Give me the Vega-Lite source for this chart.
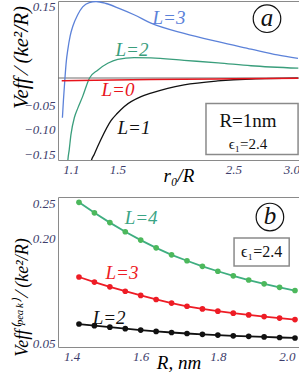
{
  "$schema": "https://vega.github.io/schema/vega-lite/v6.json",
  "padding": {"left": 9, "top": 0, "right": 0, "bottom": 0},
  "background": "white",
  "spacing": 10,
  "config": {
    "view": {"stroke": "#8a8a8a", "strokeWidth": 1},
    "axis": {"grid": false, "domain": false, "ticks": false, "labelFont": "Liberation Serif", "labelFontStyle": "italic", "labelFontSize": 13, "labelColor": "#3d3d6b", "titleFont": "Liberation Serif", "titleFontStyle": "italic", "titleFontWeight": "normal", "titleColor": "#000000"}
  },
  "datasets": {
    "zeroA": [{"x": 0.988, "v": 0}, {"x": 3.066, "v": 0}],
    "curvesA": [
      {"L": "L=3", "x": 1.026, "v": -0.081}, {"L": "L=3", "x": 1.035, "v": -0.045}, {"L": "L=3", "x": 1.048, "v": 0.0}, {"L": "L=3", "x": 1.06, "v": 0.035}, {"L": "L=3", "x": 1.072, "v": 0.057}, {"L": "L=3", "x": 1.093, "v": 0.086}, {"L": "L=3", "x": 1.115, "v": 0.105}, {"L": "L=3", "x": 1.158, "v": 0.129}, {"L": "L=3", "x": 1.201, "v": 0.145}, {"L": "L=3", "x": 1.258, "v": 0.154}, {"L": "L=3", "x": 1.316, "v": 0.156}, {"L": "L=3", "x": 1.402, "v": 0.152}, {"L": "L=3", "x": 1.514, "v": 0.142}, {"L": "L=3", "x": 1.644, "v": 0.129}, {"L": "L=3", "x": 1.79, "v": 0.112}, {"L": "L=3", "x": 2.075, "v": 0.091}, {"L": "L=3", "x": 2.368, "v": 0.074}, {"L": "L=3", "x": 2.652, "v": 0.059}, {"L": "L=3", "x": 2.88, "v": 0.047}, {"L": "L=3", "x": 3.057, "v": 0.04},
      {"L": "L=2", "x": 1.066, "v": -0.2}, {"L": "L=2", "x": 1.0715, "v": -0.173}, {"L": "L=2", "x": 1.085, "v": -0.146}, {"L": "L=2", "x": 1.1, "v": -0.115}, {"L": "L=2", "x": 1.13, "v": -0.08}, {"L": "L=2", "x": 1.158, "v": -0.062}, {"L": "L=2", "x": 1.2, "v": -0.038}, {"L": "L=2", "x": 1.26, "v": 0.0}, {"L": "L=2", "x": 1.33, "v": 0.016}, {"L": "L=2", "x": 1.417, "v": 0.03}, {"L": "L=2", "x": 1.503, "v": 0.038}, {"L": "L=2", "x": 1.644, "v": 0.0415}, {"L": "L=2", "x": 1.79, "v": 0.041}, {"L": "L=2", "x": 2.075, "v": 0.036}, {"L": "L=2", "x": 2.368, "v": 0.031}, {"L": "L=2", "x": 2.652, "v": 0.025}, {"L": "L=2", "x": 3.06, "v": 0.02},
      {"L": "L=1", "x": 1.265, "v": -0.185}, {"L": "L=1", "x": 1.272, "v": -0.172}, {"L": "L=1", "x": 1.3, "v": -0.156}, {"L": "L=1", "x": 1.359, "v": -0.125}, {"L": "L=1", "x": 1.445, "v": -0.087}, {"L": "L=1", "x": 1.5, "v": -0.072}, {"L": "L=1", "x": 1.56, "v": -0.058}, {"L": "L=1", "x": 1.704, "v": -0.038}, {"L": "L=1", "x": 1.79, "v": -0.031}, {"L": "L=1", "x": 1.934, "v": -0.021}, {"L": "L=1", "x": 2.075, "v": -0.014}, {"L": "L=1", "x": 2.365, "v": -0.006}, {"L": "L=1", "x": 2.652, "v": -0.002}, {"L": "L=1", "x": 3.057, "v": -0.0003},
      {"L": "L=0", "x": 1.02, "v": -0.0058}, {"L": "L=0", "x": 1.3, "v": -0.0048}, {"L": "L=0", "x": 1.79, "v": -0.0032}, {"L": "L=0", "x": 2.5, "v": -0.0016}, {"L": "L=0", "x": 3.06, "v": -0.0005}
    ],
    "labelsA": [
      {"L": "L=3", "x": 1.945, "v": 0.123},
      {"L": "L=2", "x": 1.626, "v": 0.058},
      {"L": "L=0", "x": 1.505, "v": -0.0255},
      {"L": "L=1", "x": 1.643, "v": -0.101}
    ],
    "boxA": [{"x": 2.264, "x2": 3.058, "v": -0.052, "v2": -0.156}],
    "boxTextA": [{"x": 2.626, "v": -0.087, "t": "R=1nm"}],
    "boxText2A": [{"x": 2.626, "v": -0.134, "t": "ϵ₁=2.4"}],
    "tagA": [{"x": 2.79, "v": 0.121, "t": "a"}],
    "peaks": [
      {"L": "L=4", "R": 1.44, "v": 0.251}, {"L": "L=4", "R": 1.48, "v": 0.236}, {"L": "L=4", "R": 1.52, "v": 0.222}, {"L": "L=4", "R": 1.56, "v": 0.209}, {"L": "L=4", "R": 1.6, "v": 0.197}, {"L": "L=4", "R": 1.64, "v": 0.186}, {"L": "L=4", "R": 1.68, "v": 0.176}, {"L": "L=4", "R": 1.72, "v": 0.1675}, {"L": "L=4", "R": 1.76, "v": 0.1595}, {"L": "L=4", "R": 1.8, "v": 0.1525}, {"L": "L=4", "R": 1.84, "v": 0.146}, {"L": "L=4", "R": 1.88, "v": 0.14}, {"L": "L=4", "R": 1.92, "v": 0.1345}, {"L": "L=4", "R": 1.96, "v": 0.1295}, {"L": "L=4", "R": 2.0, "v": 0.125},
      {"L": "L=3", "R": 1.44, "v": 0.1443}, {"L": "L=3", "R": 1.48, "v": 0.137}, {"L": "L=3", "R": 1.52, "v": 0.1303}, {"L": "L=3", "R": 1.56, "v": 0.124}, {"L": "L=3", "R": 1.6, "v": 0.118}, {"L": "L=3", "R": 1.64, "v": 0.1122}, {"L": "L=3", "R": 1.68, "v": 0.107}, {"L": "L=3", "R": 1.72, "v": 0.1025}, {"L": "L=3", "R": 1.76, "v": 0.0987}, {"L": "L=3", "R": 1.8, "v": 0.0955}, {"L": "L=3", "R": 1.84, "v": 0.0926}, {"L": "L=3", "R": 1.88, "v": 0.0901}, {"L": "L=3", "R": 1.92, "v": 0.0878}, {"L": "L=3", "R": 1.96, "v": 0.0856}, {"L": "L=3", "R": 2.0, "v": 0.0835},
      {"L": "L=2", "R": 1.44, "v": 0.0771}, {"L": "L=2", "R": 1.48, "v": 0.0748}, {"L": "L=2", "R": 1.52, "v": 0.0726}, {"L": "L=2", "R": 1.56, "v": 0.0705}, {"L": "L=2", "R": 1.6, "v": 0.0685}, {"L": "L=2", "R": 1.64, "v": 0.0666}, {"L": "L=2", "R": 1.68, "v": 0.065}, {"L": "L=2", "R": 1.72, "v": 0.0636}, {"L": "L=2", "R": 1.76, "v": 0.0624}, {"L": "L=2", "R": 1.8, "v": 0.0613}, {"L": "L=2", "R": 1.84, "v": 0.0603}, {"L": "L=2", "R": 1.88, "v": 0.0595}, {"L": "L=2", "R": 1.92, "v": 0.0587}, {"L": "L=2", "R": 1.96, "v": 0.0579}, {"L": "L=2", "R": 2.0, "v": 0.0572}
    ],
    "labelsB": [
      {"L": "L=4", "R": 1.601, "v": 0.2286},
      {"L": "L=3", "R": 1.5515, "v": 0.15},
      {"L": "L=2", "R": 1.518, "v": 0.0857}
    ],
    "boxB": [{"R": 1.842, "R2": 1.985, "v": 0.2, "v2": 0.16}],
    "boxTextB": [{"R": 1.9135, "v": 0.18, "t": "ϵ₁=2.4"}],
    "tagB": [{"R": 1.935, "v": 0.23, "t": "b"}]
  },
  "vconcat": [
    {
      "width": 241,
      "height": 159,
      "encoding": {
        "x": {"field": "x", "type": "quantitative", "scale": {"domain": [0.988, 3.066], "nice": false, "zero": false},
          "axis": {"values": [1.1, 1.5, 2.5, 3.0], "format": ".1f", "title": "r₀/R", "titleFontSize": 19, "titleY": 15, "titleBaseline": "middle", "labelPadding": 3}},
        "y": {"field": "v", "type": "quantitative", "scale": {"domain": [-0.1673, 0.1571], "nice": false, "zero": false},
          "axis": {"values": [0.15, -0.05, -0.1, -0.15], "format": ".2f", "title": "Veff ⁄ (ke²/R)", "titleFontSize": 21, "titleY": 56, "titlePadding": 7, "minExtent": 20, "maxExtent": 20, "labelPadding": 3, "labelOffset": 2.5}}
      },
      "layer": [
        {"data": {"name": "zeroA"}, "mark": {"type": "line", "color": "#6e6e6e", "strokeWidth": 1}},
        {"data": {"name": "curvesA"}, "transform": [{"filter": "datum.L != 'L=0'"}],
          "mark": {"type": "line", "interpolate": "monotone", "strokeWidth": 1.3, "clip": true},
          "encoding": {"color": {"field": "L", "type": "nominal", "scale": {"domain": ["L=0", "L=1", "L=2", "L=3"], "range": ["#e8141c", "#111111", "#3a9e7c", "#5c82d9"]}, "legend": null}}},
        {"data": {"name": "curvesA"}, "transform": [{"filter": "datum.L == 'L=0'"}],
          "mark": {"type": "line", "interpolate": "monotone", "strokeWidth": 1.5, "clip": true},
          "encoding": {"color": {"field": "L", "type": "nominal", "scale": {"domain": ["L=0", "L=1", "L=2", "L=3"], "range": ["#e8141c", "#111111", "#3a9e7c", "#5c82d9"]}, "legend": null}}},
        {"data": {"name": "labelsA"},
          "mark": {"type": "text", "font": "Liberation Serif", "fontStyle": "italic", "fontSize": 19, "align": "center", "baseline": "middle"},
          "encoding": {"text": {"field": "L"}, "color": {"field": "L", "type": "nominal", "scale": {"domain": ["L=0", "L=1", "L=2", "L=3"], "range": ["#e8141c", "#111111", "#3a9e7c", "#5c82d9"]}, "legend": null}}},
        {"data": {"name": "boxA"}, "mark": {"type": "rect", "fill": "white", "stroke": "#8a8a8a", "strokeWidth": 1.5},
          "encoding": {"x2": {"field": "x2"}, "y2": {"field": "v2"}}},
        {"data": {"name": "boxTextA"}, "mark": {"type": "text", "font": "Liberation Serif", "fontSize": 19, "align": "center", "baseline": "middle", "color": "#111111"},
          "encoding": {"text": {"field": "t"}}},
        {"data": {"name": "boxText2A"}, "mark": {"type": "text", "font": "Liberation Serif", "fontSize": 15, "align": "center", "baseline": "middle", "color": "#111111"},
          "encoding": {"text": {"field": "t"}}},
        {"data": {"name": "tagA"}, "mark": {"type": "point", "shape": "circle", "size": 760, "filled": false, "color": "#111111", "strokeWidth": 1.2, "opacity": 1}},
        {"data": {"name": "tagA"}, "mark": {"type": "text", "font": "Liberation Serif", "fontStyle": "italic", "fontSize": 25, "align": "center", "baseline": "middle", "color": "#111111", "dy": -1},
          "encoding": {"text": {"field": "t"}}}
      ]
    },
    {
      "width": 241,
      "height": 150,
      "resolve": {"scale": {"color": "independent"}},
      "encoding": {
        "x": {"field": "R", "type": "quantitative", "scale": {"domain": [1.3856, 2.0104], "nice": false, "zero": false},
          "axis": {"values": [1.4, 1.6, 1.8, 2.0], "format": ".1f", "title": "R, nm", "titleFontSize": 19, "titleY": 15, "titleBaseline": "middle", "labelPadding": 3, "labelFlush": 6}},
        "y": {"field": "v", "type": "quantitative", "scale": {"domain": [0.0443, 0.2586], "nice": false, "zero": false},
          "axis": {"values": [0.25, 0.2, 0.05], "format": ".2f", "title": "Veff⁽ᵖᵉᵃᵏ⁾ ⁄ (ke²/R)", "titleFontSize": 18, "titleY": 100, "titlePadding": 7, "minExtent": 20, "maxExtent": 20, "labelPadding": 3}}
      },
      "layer": [
        {"data": {"name": "peaks"},
          "mark": {"type": "line", "strokeWidth": 1.8},
          "encoding": {"color": {"field": "L", "type": "nominal", "scale": {"domain": ["L=2", "L=3", "L=4"], "range": ["#111111", "#ee1c25", "#3fae80"]}, "legend": null}}},
        {"data": {"name": "peaks"},
          "mark": {"type": "point", "shape": "circle", "filled": true, "size": 32, "opacity": 1},
          "encoding": {"color": {"field": "L", "type": "nominal", "scale": {"domain": ["L=2", "L=3", "L=4"], "range": ["#111111", "#ee1c25", "#4cb85c"]}, "legend": null}}},
        {"data": {"name": "labelsB"},
          "mark": {"type": "text", "font": "Liberation Serif", "fontStyle": "italic", "fontSize": 19, "align": "center", "baseline": "middle"},
          "encoding": {"text": {"field": "L"}, "color": {"field": "L", "type": "nominal", "scale": {"domain": ["L=2", "L=3", "L=4"], "range": ["#111111", "#ee1c25", "#3aa585"]}, "legend": null}}},
        {"data": {"name": "boxB"}, "mark": {"type": "rect", "fill": "white", "stroke": "#8a8a8a", "strokeWidth": 1.5},
          "encoding": {"x2": {"field": "R2"}, "y2": {"field": "v2"}}},
        {"data": {"name": "boxTextB"}, "mark": {"type": "text", "font": "Liberation Serif", "fontSize": 16, "align": "center", "baseline": "middle", "color": "#111111"},
          "encoding": {"text": {"field": "t"}}},
        {"data": {"name": "tagB"}, "mark": {"type": "point", "shape": "circle", "size": 760, "filled": false, "color": "#111111", "strokeWidth": 1.2, "opacity": 1}},
        {"data": {"name": "tagB"}, "mark": {"type": "text", "font": "Liberation Serif", "fontStyle": "italic", "fontSize": 25, "align": "center", "baseline": "middle", "color": "#111111", "dy": -1},
          "encoding": {"text": {"field": "t"}}}
      ]
    }
  ]
}
